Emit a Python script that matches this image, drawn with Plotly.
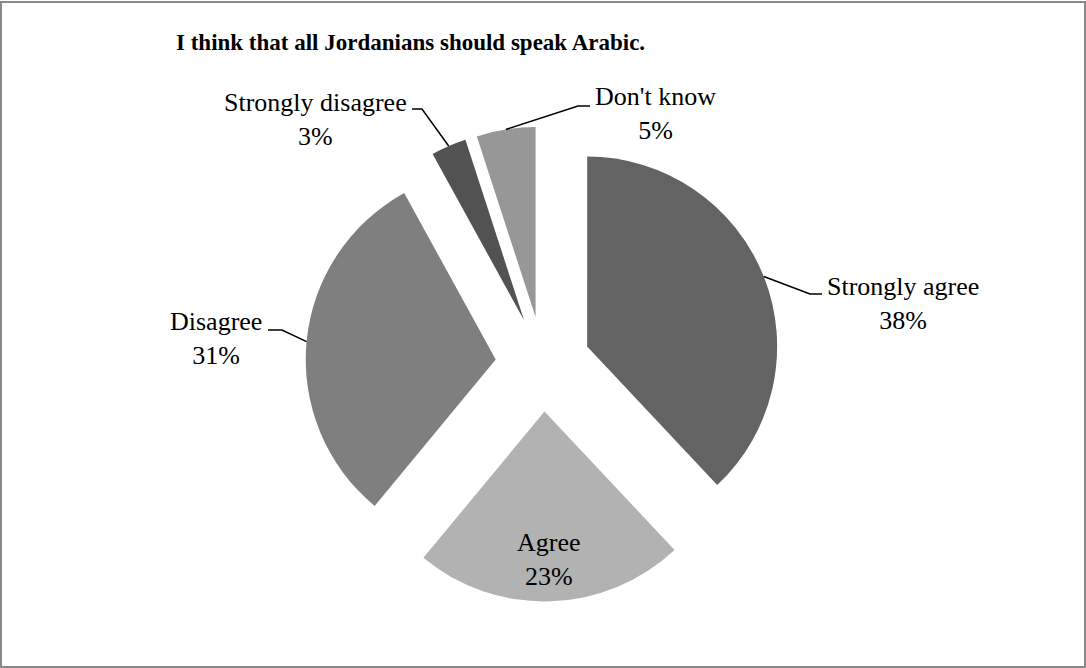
import math
import plotly.graph_objects as go

# Survey responses
labels = ["Strongly agree", "Agree", "Disagree", "Strongly disagree", "Don't know"]
values = [38, 23, 31, 3, 5]
colors = ["#636363", "#b2b2b2", "#7f7f7f", "#525252", "#979797"]

W, H = 1086, 668
PULL = 0.25
DOM_X = [0.2813, 0.7187]
DOM_Y = [0.0996, 0.8106]
FONT = "Liberation Serif, Times New Roman, serif"
FS = 26

fig = go.Figure(go.Pie(
    labels=labels,
    values=values,
    sort=False,
    direction="clockwise",
    rotation=0,
    pull=[PULL] * len(values),
    marker=dict(colors=colors, line=dict(width=0)),
    textinfo="none",
    hoverinfo="label+percent",
    showlegend=False,
    domain=dict(x=DOM_X, y=DOM_Y),
))

# Pie geometry in pixels, following plotly's own sizing rule
box_w = W * (DOM_X[1] - DOM_X[0])
box_h = H * (DOM_Y[1] - DOM_Y[0])
r = min(box_w, box_h) / 2 / (1 + PULL)
cx = W * (DOM_X[0] + DOM_X[1]) / 2
cy = H * (1 - DOM_Y[0]) - box_h / 2

total = sum(values)
mids = []
acc = 0
for v in values:
    mids.append(2 * math.pi * (acc + v / 2) / total)
    acc += v


def slice_point(i, frac):
    """Pixel point at radius frac*r along slice i's mid-angle, from its pulled centre."""
    a = mids[i]
    dx, dy = math.sin(a), -math.cos(a)
    px = cx + PULL * r * dx + frac * r * dx
    py = cy + PULL * r * dy + frac * r * dy
    return px, py


def to_paper(px, py):
    return px / W, 1 - py / H


def pct(i):
    return f"{round(100 * values[i] / total)}%"


# Leader-line elbows, line ends and label centres (pixels) for outside labels
callouts = {
    0: dict(elbow=(810, 294), end=(822, 294), text=(903, 303.5)),
    2: dict(elbow=(282, 330), end=(268, 330), text=(216, 338)),
    3: dict(elbow=(422, 109), end=(412, 109), text=(315, 120)),
    4: dict(elbow=(578, 106), end=(590, 106), text=(655, 114)),
}

shapes = []
annotations = []
for i, c in callouts.items():
    pts = [slice_point(i, 1.0), c["elbow"], c["end"]]
    pp = [to_paper(*p) for p in pts]
    path = "M {:.5f} {:.5f} L {:.5f} {:.5f} L {:.5f} {:.5f}".format(
        pp[0][0], pp[0][1], pp[1][0], pp[1][1], pp[2][0], pp[2][1])
    shapes.append(dict(type="path", xref="paper", yref="paper", path=path,
                       line=dict(color="black", width=1.5)))
    tx, ty = to_paper(*c["text"])
    annotations.append(dict(x=tx, y=ty, xref="paper", yref="paper",
                            text=f"{labels[i]}<br>{pct(i)}", showarrow=False,
                            xanchor="center", yanchor="middle",
                            font=dict(family=FONT, size=FS, color="black")))

# Label inside the Agree slice
ax, ay = to_paper(*slice_point(1, 0.78))
annotations.append(dict(x=ax, y=ay, xref="paper", yref="paper",
                        text=f"{labels[1]}<br>{pct(1)}", showarrow=False,
                        xanchor="center", yanchor="middle",
                        font=dict(family=FONT, size=FS, color="black")))

# Title
annotations.append(dict(x=410 / W, y=1 - 42 / H, xref="paper", yref="paper",
                        text="<b>I think that all Jordanians should speak Arabic.</b>",
                        showarrow=False, xanchor="center", yanchor="middle",
                        font=dict(family=FONT, size=23, color="black")))

# Chart frame
shapes.append(dict(type="rect", xref="paper", yref="paper",
                   x0=1 / W, x1=1 - 1 / W, y0=1 / H, y1=1 - 2 / H,
                   line=dict(color="#898989", width=2)))

fig.update_layout(
    width=W, height=H,
    margin=dict(l=0, r=0, t=0, b=0),
    paper_bgcolor="white",
    plot_bgcolor="white",
    shapes=shapes,
    annotations=annotations,
)

fig.write_html("out.html")
